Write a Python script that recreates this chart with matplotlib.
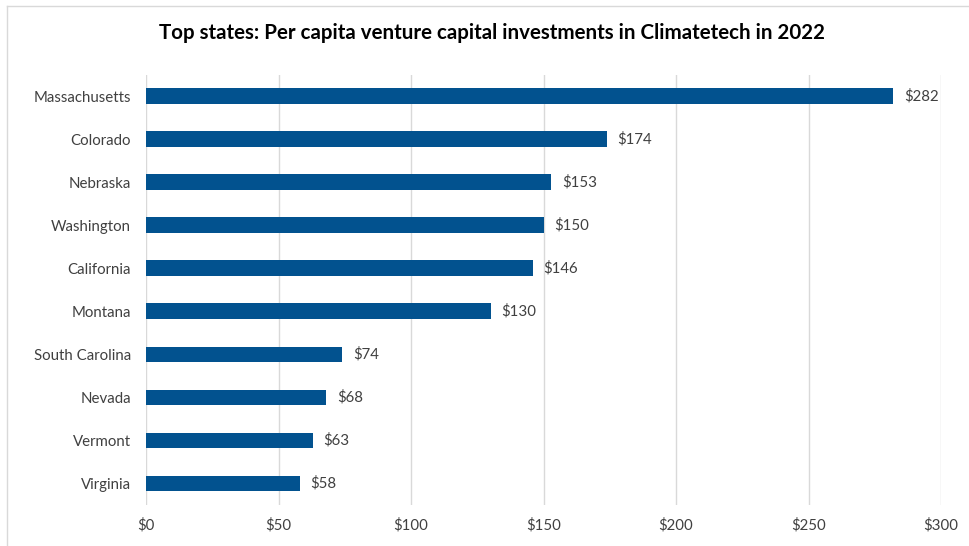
import matplotlib.pyplot as plt
from matplotlib.lines import Line2D

# Per capita climatetech VC, 2022 (USD)
states = ["Massachusetts", "Colorado", "Nebraska", "Washington", "California",
          "Montana", "South Carolina", "Nevada", "Vermont", "Virginia"]
per_capita = [282, 174, 153, 150, 146, 130, 74, 68, 63, 58]
x_ticks = [0, 50, 100, 150, 200, 250, 300]

plt.rcParams["font.family"] = ["Lato", "DejaVu Sans"]

BAR_COLOR = "#02528F"
TEXT_COLOR = "#404040"
GRID_COLOR = "#D9D9D9"

fig = plt.figure(figsize=(9.69, 5.46), dpi=100)
ax = fig.add_axes([0.1507, 0.075, 0.8204, 0.788])

pos = list(range(len(states)))
ax.barh(pos, per_capita, height=0.37, color=BAR_COLOR, zorder=3)
for y, v in zip(pos, per_capita):
    ax.text(v + 4, y, f"${v}", va="center", ha="left",
            fontsize=10.8, color=TEXT_COLOR)

ax.set_yticks(pos)
ax.set_yticklabels(states, fontsize=10.8, color=TEXT_COLOR)
ax.set_ylim(len(states) - 0.5, -0.5)

ax.set_xlim(0, 300)
ax.set_xticks(x_ticks)
ax.set_xticklabels([f"${t}" for t in x_ticks], fontsize=10.8, color=TEXT_COLOR)
ax.tick_params(axis="both", length=0)
ax.tick_params(axis="x", pad=9)
ax.tick_params(axis="y", pad=11)

ax.grid(axis="x", color=GRID_COLOR, linewidth=1, zorder=0)
for s in ax.spines.values():
    s.set_visible(False)

fig.text(0.508, 0.94, "Top states: Per capita venture capital investments in Climatetech in 2022",
         ha="center", va="center", fontsize=14.8, fontweight="bold", color="black")

# light chart frame on the left and top edges
fig.add_artist(Line2D([0.0072, 0.0072], [0.0, 0.989], transform=fig.transFigure,
                      color=GRID_COLOR, linewidth=1))
fig.add_artist(Line2D([0.0072, 1.0], [0.989, 0.989], transform=fig.transFigure,
                      color=GRID_COLOR, linewidth=1))

fig.savefig("out.png", dpi=100)
